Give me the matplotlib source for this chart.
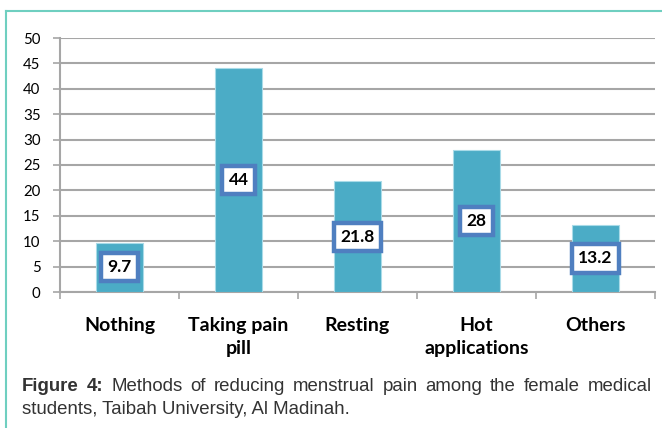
import matplotlib.pyplot as plt
from matplotlib.lines import Line2D

categories = ["Nothing", "Taking pain\npill", "Resting", "Hot\napplications", "Others"]
values = [9.7, 44, 21.8, 28, 13.2]
yticks = [0, 5, 10, 15, 20, 25, 30, 35, 40, 45, 50]

bar_color = "#4bacc6"
box_edge = "#4f7fc0"
grid_color = "#a6a6a6"

fig = plt.figure(figsize=(6.62, 4.28), dpi=100)
ax = fig.add_axes([60 / 662, 1 - 292 / 428, 595 / 662, 254 / 428])

x = range(len(categories))
ax.bar(x, values, width=0.4, color=bar_color, edgecolor="#a9dbe8", linewidth=0.8, zorder=3)

for i, v in zip(x, values):
    ax.text(i, v / 2, f"{v:g}", ha="center", va="center", fontsize=12.5,
            fontweight="bold", family="Lato", color="black", zorder=5,
            bbox=dict(boxstyle="square,pad=0.35", facecolor="white",
                      edgecolor=box_edge, linewidth=3.2))

ax.set_xlim(-0.5, len(categories) - 0.5)
ax.set_ylim(0, 50)
ax.set_yticks(yticks)
ax.yaxis.grid(True, color=grid_color, linewidth=1.5, zorder=0)
ax.set_axisbelow(True)

ax.set_xticks([i - 0.5 for i in range(len(categories) + 1)], minor=False)
ax.set_xticklabels([])
ax.set_xticks(list(x), minor=True)
ax.set_xticklabels(categories, minor=True, fontsize=14, fontweight="bold",
                   family="Lato", linespacing=1.45)
ax.tick_params(axis="x", which="minor", length=0, pad=18)
ax.tick_params(axis="x", which="major", length=5, color=grid_color, width=1.2, direction="out")
ax.tick_params(axis="y", length=5, color=grid_color, width=1.2, labelsize=10.8, pad=9)
for lab in ax.get_yticklabels():
    lab.set_family("Lato")

for s in ["top", "right"]:
    ax.spines[s].set_visible(False)
for s in ["left", "bottom"]:
    ax.spines[s].set_color(grid_color)
    ax.spines[s].set_linewidth(1.5)

# teal frame on top and left
frame = "#6fcfc0"
fig.add_artist(Line2D([6 / 662, 6 / 662], [0, 1 - 11 / 428], color=frame, lw=1.5))
fig.add_artist(Line2D([6 / 662, 1], [1 - 11 / 428, 1 - 11 / 428], color=frame, lw=1.5))

# justified caption
cap_color = "#333333"
cap_size = 13.4
line1 = ["Figure", "4:", "Methods", "of", "reducing", "menstrual", "pain", "among",
         "the", "female", "medical"]
bold_words = 2
x0, x1 = 22 / 662, 652 / 662
y1 = 1 - 391 / 428
fig.canvas.draw()
renderer = fig.canvas.get_renderer()
texts = []
for k, w in enumerate(line1):
    t = fig.text(0, y1, w, fontsize=cap_size, family="Liberation Sans", color=cap_color,
                 fontweight="bold" if k < bold_words else "normal", va="baseline")
    texts.append(t)
widths = [t.get_window_extent(renderer).width / fig.bbox.width for t in texts]
gap = (x1 - x0 - sum(widths)) / (len(texts) - 1)
pos = x0
for t, w in zip(texts, widths):
    t.set_x(pos)
    pos += w + gap
fig.text(x0, 1 - 414 / 428, "students, Taibah University, Al Madinah.", fontsize=cap_size,
         family="Liberation Sans", color=cap_color, va="baseline")

fig.savefig("out.png", dpi=100)
